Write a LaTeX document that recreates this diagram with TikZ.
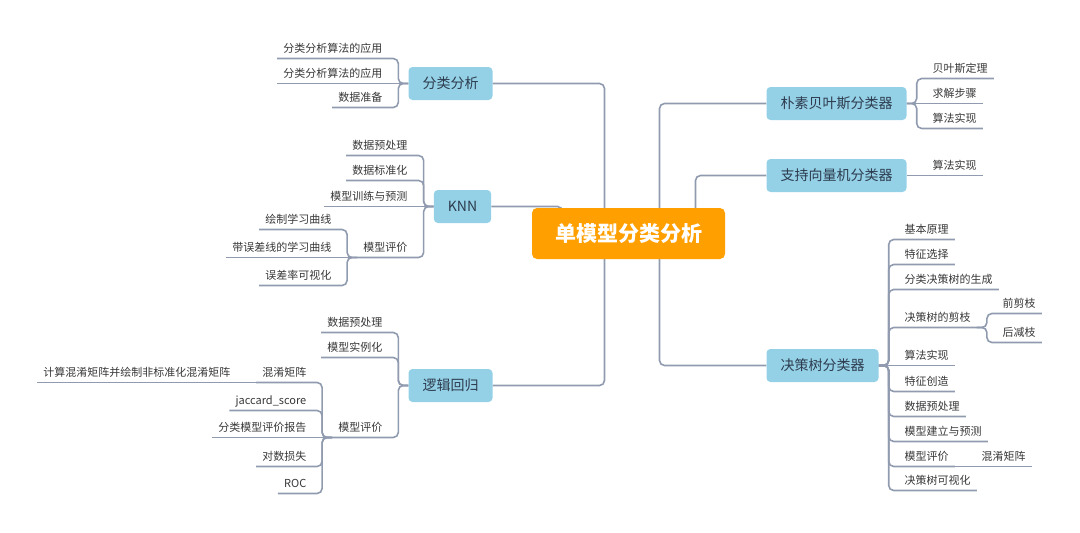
\documentclass[tikz,border=0pt]{standalone}
\usepackage{fontspec}
\setmainfont{Noto Sans CJK SC}
\usetikzlibrary{calc,backgrounds}
\definecolor{lineC}{RGB}{145,155,176}
\definecolor{boxC}{RGB}{148,208,230}
\definecolor{rootC}{RGB}{255,160,0}
\definecolor{txtC}{RGB}{55,55,55}
\definecolor{boxT}{RGB}{45,60,78}
\begin{document}
\begin{tikzpicture}[x=1pt,y=-1pt,
 conn/.style={draw=lineC,line width=1.6pt,rounded corners=5pt},
 leaf/.style={inner xsep=6pt,inner ysep=6pt,text height=8pt,text depth=0pt,text=txtC,font=\fontsize{11}{13}\selectfont},
 lleaf/.style={leaf,anchor=south east},
 rleaf/.style={leaf,anchor=south west},
 topic/.style={fill=boxC,rounded corners=4pt,inner xsep=14pt,minimum height=33pt,text=boxT,font=\fontsize{14}{16}\selectfont},
 rootbox/.style={fill=rootC,rounded corners=5pt,inner xsep=23pt,minimum height=51pt,text=white,font=\fontsize{21}{24}\selectfont\bfseries}]
\useasboundingbox (-0.5,-0.5) rectangle (1079.5,532.5);

% root
\node[rootbox] (root) at (628,233) {单模型分类分析};

% main topics
\node[topic] (fl) at (450,83) {分类分析};
\node[topic] (knn) at (462,206) {KNN};
\node[topic] (lr) at (450,385) {逻辑回归};
\node[topic] (nb) at (836,103) {朴素贝叶斯分类器};
\node[topic] (svm) at (836,175) {支持向量机分类器};
\node[topic] (dt) at (822,365) {决策树分类器};

% 分类分析
\node[lleaf] (a1) at (388,58) {分类分析算法的应用};
\node[lleaf] (a2) at (388,83) {分类分析算法的应用};
\node[lleaf] (a3) at (388,107) {数据准备};

% KNN
\node[lleaf] (k1) at (413,155) {数据预处理};
\node[lleaf] (k2) at (413,180) {数据标准化};
\node[lleaf] (k3) at (413,206) {模型训练与预测};
\node[lleaf] (k4) at (413,257) {模型评价};
\node[lleaf] (k41) at (337,229) {绘制学习曲线};
\node[lleaf] (k42) at (337,257) {带误差线的学习曲线};
\node[lleaf] (k43) at (337,285) {误差率可视化};

% 逻辑回归
\node[lleaf] (l1) at (388,332) {数据预处理};
\node[lleaf] (l2) at (388,357) {模型实例化};
\node[lleaf] (l3) at (388,437) {模型评价};
\node[lleaf] (l31) at (312,382) {混淆矩阵};
\node[lleaf] (l311) at (236,382) {计算混淆矩阵并绘制非标准化混淆矩阵};
\node[lleaf] (l32) at (312,410) {jaccard\_score};
\node[lleaf] (l33) at (312,437) {分类模型评价报告};
\node[lleaf] (l34) at (312,466) {对数损失};
\node[lleaf] (l35) at (312,493) {ROC};

% 朴素贝叶斯
\node[rleaf] (n1) at (926,78) {贝叶斯定理};
\node[rleaf] (n2) at (926,103) {求解步骤};
\node[rleaf] (n3) at (926,128) {算法实现};

% SVM
\node[rleaf] (s1) at (926,175) {算法实现};

% 决策树
\node[rleaf] (d1) at (898,239) {基本原理};
\node[rleaf] (d2) at (898,264) {特征选择};
\node[rleaf] (d3) at (898,289) {分类决策树的生成};
\node[rleaf] (d4) at (898,327) {决策树的剪枝};
\node[rleaf] (d41) at (996,313) {前剪枝};
\node[rleaf] (d42) at (996,342) {后减枝};
\node[rleaf] (d5) at (898,365) {算法实现};
\node[rleaf] (d6) at (898,391) {特征创造};
\node[rleaf] (d7) at (898,416) {数据预处理};
\node[rleaf] (d8) at (898,441) {模型建立与预测};
\node[rleaf] (d9) at (898,466) {模型评价};
\node[rleaf] (d91) at (975,466) {混淆矩阵};
\node[rleaf] (d10) at (898,490) {决策树可视化};

\begin{pgfonlayer}{background}
% root to topics
\draw[conn] ($(root.center)+(-24,0)$) |- (fl.east);
\draw[conn] ($(root.center)+(-66,0)$) |- (knn.east);
\draw[conn] ($(root.center)+(-24,0)$) |- (lr.east);
\draw[conn] ($(root.center)+(31,0)$) |- (nb.west);
\draw[conn] ($(root.center)+(67,0)$) |- (svm.west);
\draw[conn] ($(root.center)+(31,0)$) |- (dt.west);

% left children
\foreach \c in {a1,a3} \draw[conn] (fl.west) -- ++(-10,0) |- (\c.south west);
\draw[conn] (fl.west) -- (a2.south west);
\foreach \c in {k1,k2,k4} \draw[conn] (knn.west) -- ++(-10,0) |- (\c.south west);
\draw[conn] (knn.west) -- (k3.south west);
\foreach \c in {k41,k43} \draw[conn] (k4.south west) -- ++(-10,0) |- (\c.south west);
\draw[conn] (k4.south west) -- (k42.south west);
\foreach \c in {l1,l2,l3} \draw[conn] (lr.west) -- ++(-10,0) |- (\c.south west);
\foreach \c in {l31,l32,l34,l35} \draw[conn] (l3.south west) -- ++(-10,0) |- (\c.south west);
\draw[conn] (l3.south west) -- (l33.south west);
\draw[conn] (l31.south west) -- (l311.south west);

% right children
\foreach \c in {n1,n3} \draw[conn] (nb.east) -- ++(10,0) |- (\c.south east);
\draw[conn] (nb.east) -- (n2.south east);
\draw[conn] (svm.east) -- (s1.south east);
\foreach \c in {d1,d2,d3,d4,d6,d7,d8,d9,d10} \draw[conn] (dt.east) -- ++(10,0) |- (\c.south east);
\draw[conn] (dt.east) -- (d5.south east);
\foreach \c in {d41,d42} \draw[conn] (d4.south east) -- ++(10,0) |- (\c.south east);
\draw[conn] (d9.south east) -- (d91.south east);
\end{pgfonlayer}
\end{tikzpicture}
\end{document}
